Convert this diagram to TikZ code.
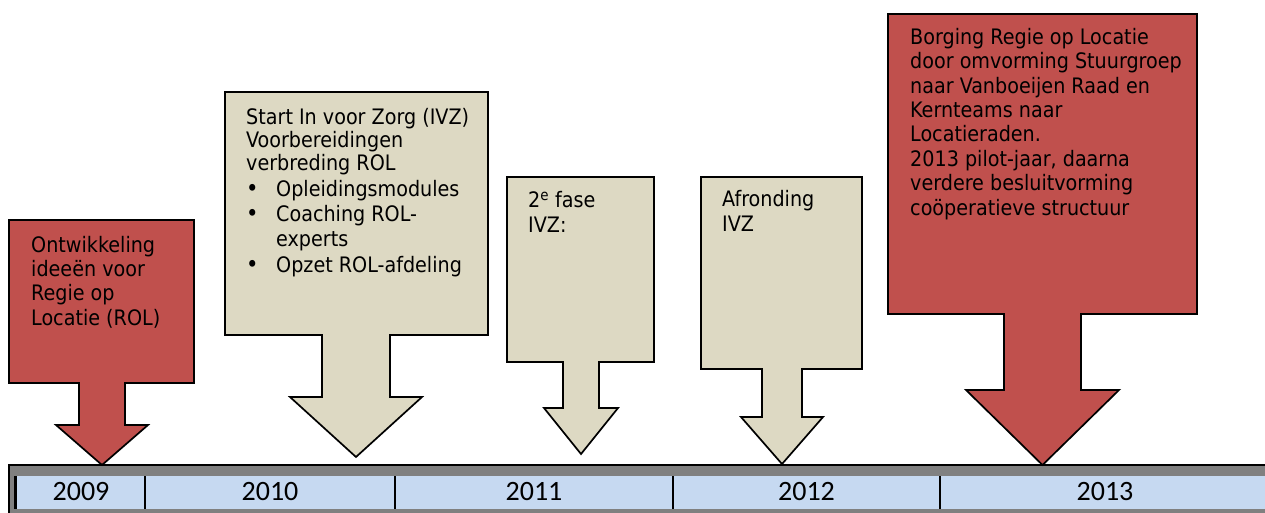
\documentclass[tikz,border=0pt]{standalone}
\usepackage{fontspec}
\newfontfamily\boxfont{DejaVu Sans Condensed}
\newfontfamily\yearfont{Carlito}
\definecolor{rolred}{HTML}{C0504D}
\definecolor{tanfill}{HTML}{DDD9C3}
\definecolor{cellblue}{HTML}{C6D9F1}
\definecolor{bordergray}{HTML}{808080}
\newcommand\bulitem{\makebox[30pt][l]{\scalebox{1.1}{•}}}
\begin{document}
\begin{tikzpicture}[x=1pt,y=-1pt,
  redcallout/.style={fill=rolred,draw=black,line width=1.7pt,line join=miter},
  tancallout/.style={fill=tanfill,draw=black,line width=1.7pt,line join=miter},
  boxtext/.style={anchor=base west,align=left,inner sep=0pt,text=black,
    font={\boxfont\fontsize{21.3}{24.2}\selectfont}},
  yearlabel/.style={anchor=base,inner sep=0pt,font={\yearfont\fontsize{28}{30}\selectfont}},
  divider/.style={line width=2pt,black}]
\useasboundingbox (0,0) rectangle (1265,513);
% timeline bar
\fill[bordergray] (9,465) rectangle (1270,515);
\fill[cellblue] (17,476) rectangle (1270,509);
\draw[line width=1.5pt] (9,515) -- (9,465) -- (1270,465);
\draw[line width=2.5pt] (15.5,476) -- (15.5,509);
\draw[divider] (145,476) -- (145,509);
\draw[divider] (395,476) -- (395,509);
\draw[divider] (673,476) -- (673,509);
\draw[divider] (940,476) -- (940,509);
\node[yearlabel] (y2009) at (81,500) {2009};
\node[yearlabel] (y2010) at (270,500) {2010};
\node[yearlabel] (y2011) at (534,500) {2011};
\node[yearlabel] (y2012) at (806.5,500) {2012};
\node[yearlabel] (y2013) at (1105,500) {2013};
% 2009 (node anchored at the baseline of its last line)
\draw[redcallout] (9,220) -- (194,220) -- (194,383) -- (125,383) -- (125,425) -- (148,425) -- (102,465) -- (56,425) -- (79,425) -- (79,383) -- (9,383) -- cycle;
\node[boxtext] (t2009) at (31,325) {Ontwikkeling\\ideeën voor\\Regie op\\Locatie (ROL)};
% 2010
\draw[tancallout] (225,92) -- (488,92) -- (488,335) -- (390,335) -- (390,397) -- (422,397) -- (356,457) -- (290,397) -- (322,397) -- (322,335) -- (225,335) -- cycle;
\node[boxtext,font={\boxfont\fontsize{21.3}{23}\selectfont}] (t2010) at (246,272) {Start In voor Zorg (IVZ)\\Voorbereidingen\\verbreding ROL\\[3pt]\bulitem Opleidingsmodules\\[2pt]\bulitem Coaching ROL-\\[2pt]\hspace*{30pt}experts\\[3pt]\bulitem Opzet ROL-afdeling};
% 2011
\draw[tancallout] (507,177) -- (654,177) -- (654,362) -- (599,362) -- (599,408) -- (618,408) -- (581,454) -- (544,408) -- (563,408) -- (563,362) -- (507,362) -- cycle;
\node[boxtext,font={\boxfont\fontsize{21.3}{25}\selectfont}] (t2011) at (528,232.7) {2\textsuperscript{e} fase\\IVZ:};
% 2012
\draw[tancallout] (701,177) -- (862,177) -- (862,369) -- (802,369) -- (802,417) -- (823,417) -- (782,464) -- (741,417) -- (762,417) -- (762,369) -- (701,369) -- cycle;
\node[boxtext,font={\boxfont\fontsize{21.3}{25}\selectfont}] (t2012) at (722,231.7) {Afronding\\IVZ};
% 2013
\draw[redcallout] (888,14) -- (1197,14) -- (1197,314) -- (1081,314) -- (1081,390) -- (1119,390) -- (1042.5,465) -- (966,390) -- (1004,390) -- (1004,314) -- (888,314) -- cycle;
\node[boxtext,font={\boxfont\fontsize{21.3}{24.4}\selectfont}] (t2013) at (910,215) {Borging Regie op Locatie\\door omvorming Stuurgroep\\naar Vanboeijen Raad en\\Kernteams naar\\Locatieraden.\\2013 pilot-jaar, daarna\\verdere besluitvorming\\coöperatieve structuur};
\end{tikzpicture}
\end{document}
